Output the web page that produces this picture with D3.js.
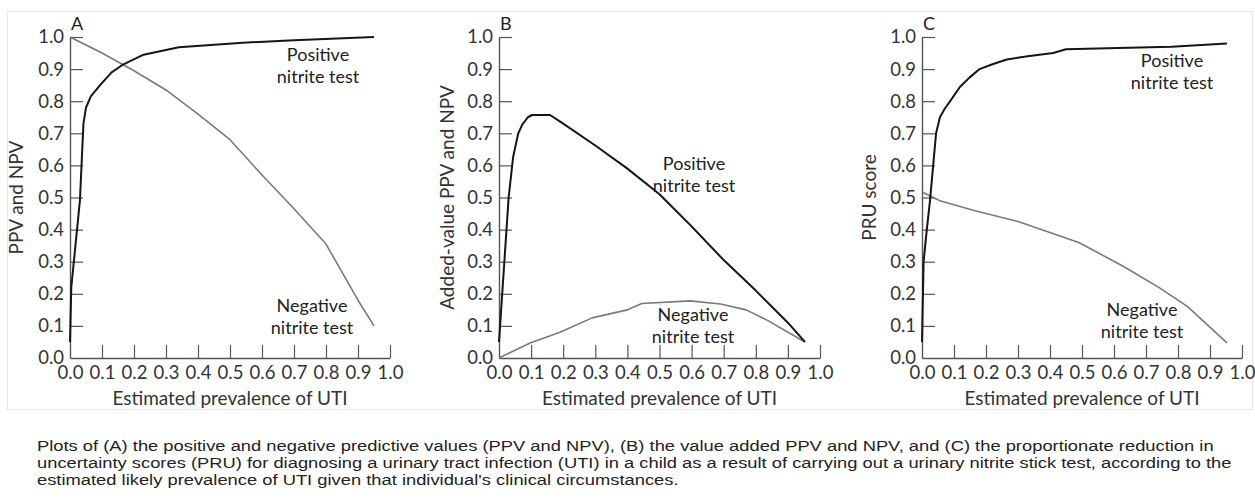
<!DOCTYPE html>
<html>
<head>
<meta charset="utf-8">
<script src="https://cdn.jsdelivr.net/npm/d3@7"></script>
<style>
html,body{margin:0;padding:0;background:#fff;}
svg{display:block;}
</style>
</head>
<body>
<svg id="chart" width="1255" height="498"></svg>
<script>
// ---------- DATA ----------
const xTicks = [0,0.1,0.2,0.3,0.4,0.5,0.6,0.7,0.8,0.9,1.0];
const yTicks = [0,0.1,0.2,0.3,0.4,0.5,0.6,0.7,0.8,0.9,1.0];

// Panel A: PPV / NPV
const aPosX = [0,0.004,0.031,0.042,0.05,0.065,0.094,0.13,0.167,0.23,0.34,0.54,0.7,0.95];
const aPosY = [0.05,0.22,0.49,0.73,0.78,0.815,0.85,0.89,0.915,0.945,0.968,0.982,0.99,1.0];
const aNegX = [0,0.1,0.2,0.3,0.4,0.5,0.6,0.7,0.8,0.9,0.95];
const aNegY = [1.0,0.95,0.895,0.835,0.76,0.68,0.57,0.465,0.355,0.18,0.1];

// Panel B: added-value PPV / NPV
const bPosX = [0,0.03,0.044,0.06,0.072,0.09,0.103,0.159,0.2,0.3,0.4,0.5,0.6,0.7,0.8,0.9,0.953];
const bPosY = [0.05,0.5,0.626,0.70,0.726,0.75,0.757,0.757,0.73,0.662,0.59,0.51,0.41,0.305,0.21,0.11,0.05];
const bNegX = [0,0.097,0.19,0.29,0.4,0.445,0.595,0.69,0.77,0.835,0.953];
const bNegY = [0,0.047,0.08,0.125,0.15,0.17,0.178,0.168,0.15,0.118,0.05];

// Panel C: PRU scores
const cPosX = [0,0.005,0.015,0.025,0.044,0.056,0.07,0.088,0.119,0.15,0.18,0.22,0.265,0.33,0.41,0.45,0.58,0.78,0.953];
const cPosY = [0.05,0.3,0.40,0.49,0.70,0.75,0.775,0.80,0.845,0.875,0.90,0.915,0.93,0.94,0.95,0.962,0.965,0.97,0.98];
const cNegX = [0,0.056,0.16,0.30,0.49,0.63,0.74,0.83,0.953];
const cNegY = [0.517,0.49,0.46,0.425,0.36,0.285,0.22,0.16,0.047];

const panelLetters = ["A","B","C"];
const yTitles = ["PPV and NPV","Added-value PPV and NPV","PRU score"];
const xTitle = "Estimated prevalence of UTI";
const seriesLabels = [["Positive","nitrite test"],["Negative","nitrite test"]];
const captionLines = [
  "Plots of (A) the positive and negative predictive values (PPV and NPV), (B) the value added PPV and NPV, and (C) the proportionate reduction in",
  "uncertainty scores (PRU) for diagnosing a urinary tract infection (UTI) in a child as a result of carrying out a urinary nitrite stick test, according to the",
  "estimated likely prevalence of UTI given that individual's clinical circumstances."
];

// ---------- LAYOUT ----------
const FONT = "Lato, 'Open Sans', sans-serif";
const svg = d3.select("#chart");
svg.append("rect").attr("x",0).attr("y",0).attr("width",1255).attr("height",498).attr("fill","#fff");
svg.append("rect").attr("x",7.5).attr("y",11.5).attr("width",1245).attr("height",398)
  .attr("fill","none").attr("stroke","#e6e6f0").attr("stroke-width",1);

const panels = [
  {x0:70, x1:390, pos:[aPosX,aPosY], neg:[aNegX,aNegY], titleX:17,
   posLab:[318,55], negLab:[312,306]},
  {x0:499, x1:820, pos:[bPosX,bPosY], neg:[bNegX,bNegY], titleX:448,
   posLab:[694,164], negLab:[693,315]},
  {x0:922, x1:1242, pos:[cPosX,cPosY], neg:[cNegX,cNegY], titleX:870,
   posLab:[1172,61], negLab:[1142,310]}
];
const yTop = 37, yBot = 358;

panels.forEach((p,i)=>{
  const x = d3.scaleLinear().domain([0,1]).range([p.x0,p.x1]);
  const y = d3.scaleLinear().domain([0,1]).range([yBot,yTop]);
  const g = svg.append("g");

  const xAxis = d3.axisBottom(x).tickValues(xTicks).tickFormat(d3.format(".1f"))
    .tickSizeInner(-13).tickSizeOuter(0).tickPadding(8);
  const yAxis = d3.axisLeft(y).tickValues(yTicks).tickFormat(d3.format(".1f"))
    .tickSizeInner(-13).tickSizeOuter(0).tickPadding(6);

  const gx = g.append("g").attr("transform",`translate(0,${yBot})`).call(xAxis);
  const gy = g.append("g").attr("transform",`translate(${p.x0},0)`).call(yAxis);
  [gx,gy].forEach(a=>{
    a.select(".domain").attr("stroke","#555").attr("stroke-width",1.4);
    a.selectAll(".tick line").attr("stroke","#555").attr("stroke-width",1.2);
    a.selectAll(".tick text").attr("fill","#333").style("font-family",FONT).style("font-size","18.5px");
  });
  gx.selectAll(".tick").filter(d=>d===0).select("line").remove();
  gy.selectAll(".tick").filter(d=>d===0).select("line").remove();

  const line = d3.line().x(d=>x(d[0])).y(d=>y(d[1])).curve(d3.curveLinear);
  const negPts = p.neg[0].map((v,k)=>[v,p.neg[1][k]]);
  const posPts = p.pos[0].map((v,k)=>[v,p.pos[1][k]]);
  g.append("path").datum(negPts).attr("d",line).attr("fill","none")
    .attr("stroke","#7a7a7a").attr("stroke-width",1.6).attr("stroke-linejoin","round");
  g.append("path").datum(posPts).attr("d",line).attr("fill","none")
    .attr("stroke","#151515").attr("stroke-width",2).attr("stroke-linejoin","round");

  // panel letter
  g.append("text").attr("x",p.x0+1).attr("y",30).text(panelLetters[i])
    .style("font-family",FONT).style("font-size","18px").attr("fill","#222");

  // axis titles
  g.append("text").attr("x",(p.x0+p.x1)/2).attr("y",405).attr("text-anchor","middle")
    .text(xTitle).style("font-family",FONT).style("font-size","19px").attr("fill","#333");
  g.append("text").attr("transform",`translate(${p.titleX+6},${(yTop+yBot)/2}) rotate(-90)`)
    .attr("text-anchor","middle").text(yTitles[i])
    .style("font-family",FONT).style("font-size","19px").attr("fill","#333");

  // series labels
  [[p.posLab,seriesLabels[0]],[p.negLab,seriesLabels[1]]].forEach(([pt,labs])=>{
    labs.forEach((t,k)=>{
      g.append("text").attr("x",pt[0]).attr("y",pt[1]+6+k*22).attr("text-anchor","middle")
        .text(t).style("font-family",FONT).style("font-size","18px").attr("fill","#222");
    });
  });
});

// caption
const cap = svg.append("g");
const capLines = captionLines.map((t,k)=>cap.append("text").attr("x",37).attr("y",451+k*17)
  .text(t).style("font-family","'Liberation Sans', Arial, sans-serif").style("font-size","15px").attr("fill","#222"));
const w1 = capLines[0].node().getComputedTextLength();
const f = 1177/w1;
capLines.forEach(s=>s.attr("transform",`translate(37,0) scale(${f},1) translate(-37,0)`));
</script>
</body>
</html>
